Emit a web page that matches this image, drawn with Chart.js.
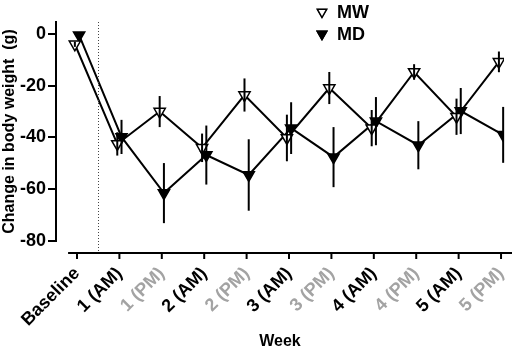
<!DOCTYPE html>
<html>
<head>
<meta charset="utf-8">
<script src="https://cdn.jsdelivr.net/npm/chart.js@4.4.1/dist/chart.umd.min.js"></script>
<style>
  html, body { margin: 0; padding: 0; background: #fff; }
  #wrap { width: 512px; height: 353px; }
</style>
</head>
<body>
<div id="wrap"><canvas id="myChart" width="512" height="353"></canvas></div>
<script>
// categories (x axis)
const weeks = ['Baseline', '1 (AM)', '1 (PM)', '2 (AM)', '2 (PM)', '3 (AM)', '3 (PM)', '4 (AM)', '4 (PM)', '5 (AM)', '5 (PM)'];

// change in body weight (g), mean and error
const mwMean = [-4, -42.5, -30, -44, -23.6, -40.2, -20.9, -36.4, -14.7, -32, -10.8];
const mwErr = [1, 4.5, 6, 5.5, 6.4, 9, 6.2, 7, 3, 7, 4];
const mdMean = [-0.5, -39.8, -61.5, -46.8, -54.5, -36.4, -47.6, -33.7, -43, -29.8, -39];
const mdErr = [1, 6.6, 11.6, 11.4, 13.8, 10, 11.6, 9.3, 9.3, 8.9, 10.8];

const FONT = "'Liberation Sans', Arial, sans-serif";
const PM_GREY = '#a3a3a3';

// small side shift so the two groups don't sit on top of each other
const dodge = 0.05;
const toPoints = (vals, shift) => vals.map((v, i) => ({ x: i + shift, y: v }));

// error bars, drawn with the chart's own scales
const errorBars = {
    id: 'errorBars',
    afterDatasetsDraw(chart) {
        const c = chart.ctx;
        const yScale = chart.scales.y;
        chart.data.datasets.forEach((ds, di) => {
            const meta = chart.getDatasetMeta(di);
            c.save();
            c.strokeStyle = '#000';
            c.lineWidth = 2;
            meta.data.forEach((pt, i) => {
                const v = ds.data[i].y;
                const e = ds.errors[i];
                c.beginPath();
                c.moveTo(pt.x, yScale.getPixelForValue(v + e));
                c.lineTo(pt.x, yScale.getPixelForValue(v - e));
                c.stroke();
            });
            c.restore();
        });
    }
};

// detached x axis line + ticks, dotted separator, legend
const extras = {
    id: 'extras',
    afterDraw(chart) {
        const c = chart.ctx;
        const xs = chart.scales.x;
        const area = chart.chartArea;
        const axisY = area.bottom + 12;

        c.save();
        // x axis line
        c.strokeStyle = '#000';
        c.lineWidth = 2;
        c.beginPath();
        c.moveTo(xs.getPixelForValue(-0.21), axisY);
        c.lineTo(chart.width, axisY);
        c.stroke();
        // tick marks
        weeks.forEach((w, i) => {
            const x = xs.getPixelForValue(i);
            c.beginPath();
            c.moveTo(x, axisY);
            c.lineTo(x, axisY + 6);
            c.stroke();
        });
        // dotted line between baseline and week 1
        const dx = Math.round(xs.getPixelForValue(0.5)) + 0.5;
        c.strokeStyle = '#444';
        c.lineWidth = 1;
        c.setLineDash([1, 2]);
        c.beginPath();
        c.moveTo(dx, area.top);
        c.lineTo(dx, axisY);
        c.stroke();
        c.setLineDash([]);

        // legend
        const items = [
            { text: 'MW', fill: '#fff', y: 12 },
            { text: 'MD', fill: '#000', y: 34 }
        ];
        items.forEach(it => {
            Chart.helpers.drawPoint(c, {
                pointStyle: 'triangle', rotation: 180, radius: 5.5, borderWidth: 1.5
            }, 322, it.y);
            c.fillStyle = it.fill;
            c.strokeStyle = '#000';
            c.lineWidth = 1.5;
            c.fill();
            c.stroke();
            c.fillStyle = '#000';
            c.font = 'bold 18px ' + FONT;
            c.textBaseline = 'middle';
            c.textAlign = 'left';
            c.fillText(it.text, 337, it.y + 1);
        });
        c.restore();
    }
};

const ctx = document.getElementById('myChart').getContext('2d');

const myChart = new Chart(ctx, {
    type: 'line',
    data: {
        datasets: [
            {
                label: 'MW',
                data: toPoints(mwMean, -dodge),
                errors: mwErr,
                borderColor: '#000',
                borderWidth: 2,
                pointStyle: 'triangle',
                rotation: 180,
                pointRadius: 6.5,
                pointBorderWidth: 1.5,
                pointBackgroundColor: '#fff',
                pointBorderColor: '#000',
                fill: false,
                tension: 0
            },
            {
                label: 'MD',
                data: toPoints(mdMean, dodge),
                errors: mdErr,
                borderColor: '#000',
                borderWidth: 2,
                pointStyle: 'triangle',
                rotation: 180,
                pointRadius: 6.5,
                pointBorderWidth: 1.5,
                pointBackgroundColor: '#000',
                pointBorderColor: '#000',
                fill: false,
                tension: 0
            }
        ]
    },
    options: {
        responsive: false,
        animation: false,
        events: [],
        layout: { padding: { top: 22, right: 0, left: 0, bottom: 0 } },
        plugins: {
            legend: { display: false },
            tooltip: { enabled: false }
        },
        scales: {
            x: {
                type: 'linear',
                min: -0.495,
                max: 10.07,
                afterFit: s => {
                    s.height = 112;
                    s.paddingLeft = 0;
                    s.paddingRight = 0;
                },
                border: { display: false },
                grid: { display: false, drawTicks: false },
                ticks: {
                    stepSize: 1,
                    includeBounds: false,
                    autoSkip: false,
                    maxRotation: 45,
                    minRotation: 45,
                    padding: 22,
                    font: { family: FONT, size: 18, weight: 'bold' },
                    color: c => (weeks[c.tick.value] || '').includes('PM') ? PM_GREY : '#000',
                    callback: v => weeks[v]
                },
                title: {
                    display: true,
                    text: 'Week',
                    color: '#000',
                    font: { family: FONT, size: 16, weight: 'bold' },
                    padding: { top: 0, bottom: 2 }
                }
            },
            y: {
                min: -80,
                max: 4.6,
                afterFit: s => { s.width = 56; },
                border: { display: true, color: '#000', width: 2 },
                grid: {
                    drawOnChartArea: false,
                    drawTicks: true,
                    tickLength: 8,
                    color: '#000',
                    lineWidth: 2
                },
                ticks: {
                    stepSize: 20,
                    includeBounds: false,
                    padding: 2,
                    color: '#000',
                    font: { family: FONT, size: 18, weight: 'bold' }
                },
                title: {
                    display: true,
                    text: 'Change in body weight  (g)',
                    color: '#000',
                    font: { family: FONT, size: 16, weight: 'bold' },
                    padding: { top: 0, bottom: 0 }
                }
            }
        }
    },
    plugins: [errorBars, extras]
});
</script>
</body>
</html>
